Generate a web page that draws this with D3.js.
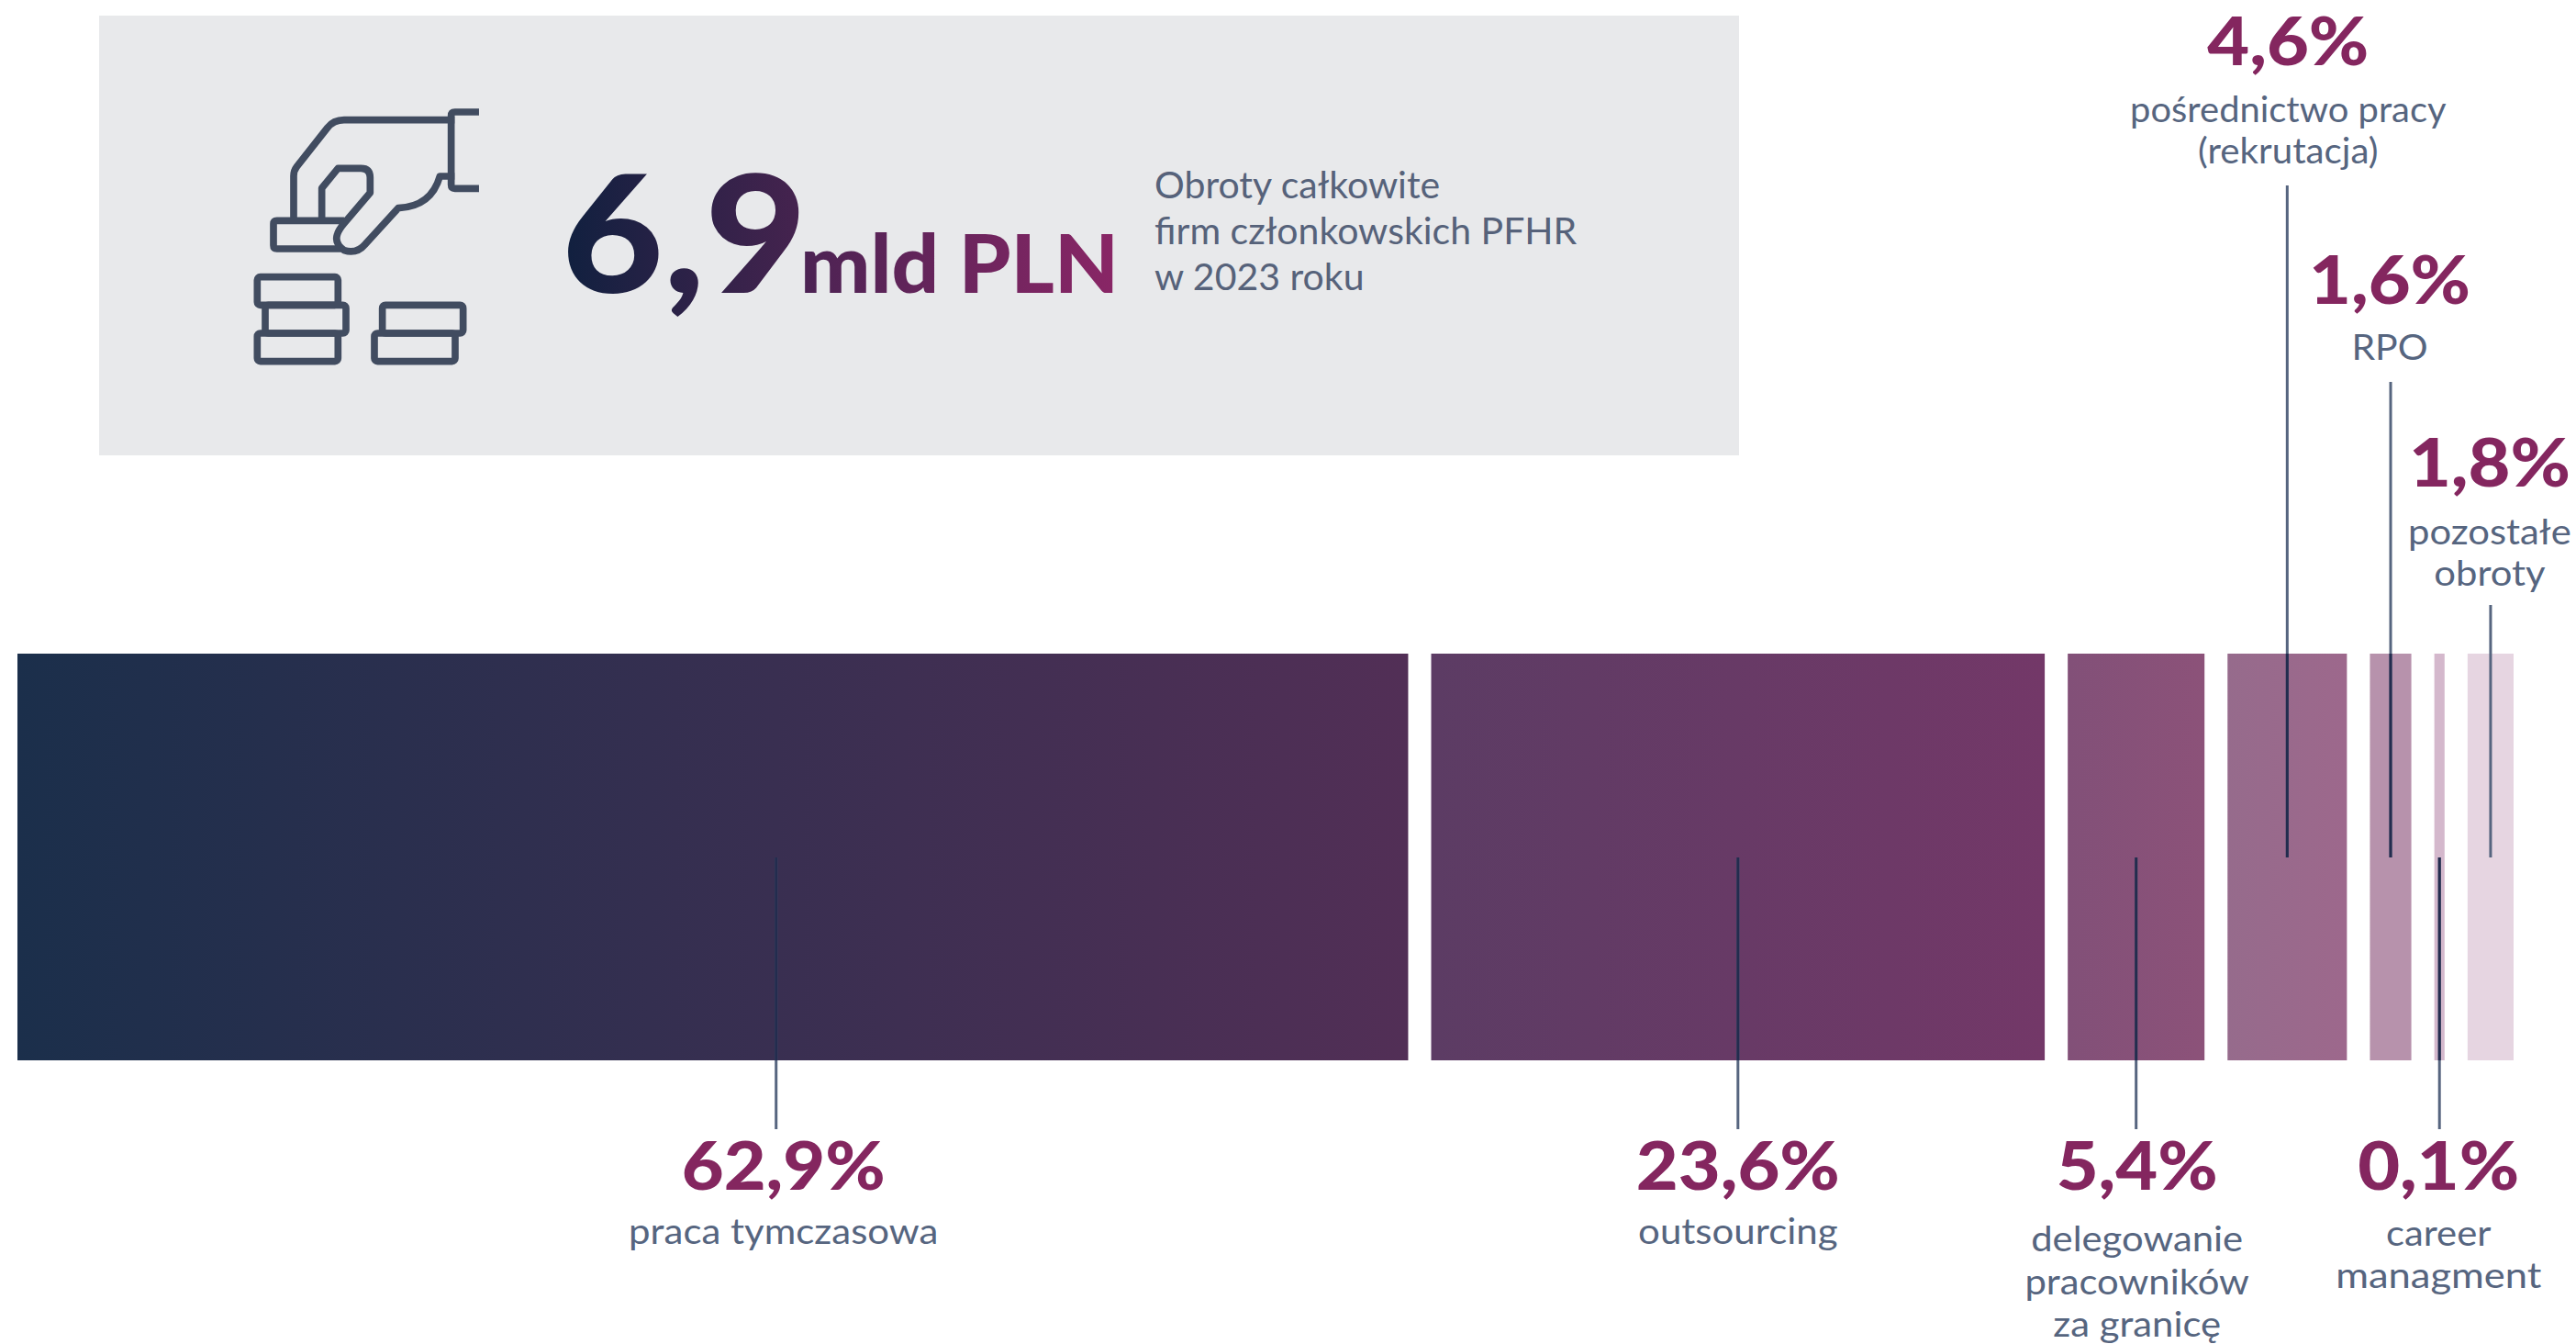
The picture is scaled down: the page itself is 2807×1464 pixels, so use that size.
<!DOCTYPE html>
<html><head><meta charset="utf-8">
<script src="https://cdn.jsdelivr.net/npm/d3@7"></script>
<style>html,body{margin:0;padding:0;background:#fff}svg{display:block}text{font-family:Lato,sans-serif}</style>
</head><body><svg id="c" width="2807" height="1464"></svg>
<script>
// DATA
const categories = ["praca tymczasowa","outsourcing","delegowanie pracowników za granicę","pośrednictwo pracy (rekrutacja)","RPO","career managment","pozostałe obroty"];
const percentLabels = ["62,9%","23,6%","5,4%","4,6%","1,6%","0,1%","1,8%"];
const shareValues = [62.9,23.6,5.4,4.6,1.6,0.1,1.8];
// lengths of the segments as drawn in the picture (first is compressed, smallest is widened)
const drawnLengths = [54.4,24.0,5.35,4.67,1.62,0.4,1.8];
const segmentGap = 0.9;
const headlineValue = "6,9";
const headlineUnit = "mld PLN";
const headlineNote = ["Obroty całkowite","firm członkowskich PFHR","w 2023 roku"];
const categoryLines = [["praca tymczasowa"],["outsourcing"],["delegowanie","pracowników","za granicę"],["pośrednictwo pracy","(rekrutacja)"],["RPO"],["career","managment"],["pozostałe","obroty"]];

// LAYOUT / STYLE
const gradients = [["#1b2f4b","#522f56"],["#5c3c64","#733868"],["#825078","#8c5279"],["#966b8c","#9d688c"],["#b792ac","#b792ac"],["#d4b8cc","#d4b8cc"],["#e6d5e1","#e6d5e1"]];
const leaderEnd = [1230,1230,1230,202,416,1230,659];
const leaderShift = [69,0,0,0,0,0,0];
const valueBase = [1296,1296,1296,71,331,1296,530];
const textBase = [1355,1355,1363,133,392,1357,593];
const textStep = [0,0,46.5,45,0,46,45];
const textShift = [8,0,1,1,-1,-1,-1];
const BAR_TOP=712, BAR_BOTTOM=1155, BAR_MID=934;
const WIDEN=1.1;
const lineWiden=[[1.105],[1.105],[1.1,1.1,1.1],[1.05,1.06],[1.08],[1.1,1.145],[1.1,1.1]];
const ink="#56657f", inkOnBar="#232c4e", purple="#84265f";

const starts = d3.cumsum([0,...drawnLengths.slice(0,-1)].map(v=>v+segmentGap)).map(v=>v-segmentGap);
const x = d3.scaleLinear().domain([0,d3.sum(drawnLengths)+segmentGap*(drawnLengths.length-1)]).range([19,2739]);
const svg = d3.select("#c");
const defs = svg.append("defs");

const segs = categories.map((c,i)=>({c,i,v:shareValues[i],x0:x(starts[i]),x1:x(starts[i]+drawnLengths[i])}));
segs.forEach(s=>{
  const g=defs.append("linearGradient").attr("id","g"+s.i).attr("gradientUnits","objectBoundingBox");
  g.append("stop").attr("offset",0).attr("stop-color",gradients[s.i][0]);
  g.append("stop").attr("offset",1).attr("stop-color",gradients[s.i][1]);
});
const makeGrad=(id,a,b)=>{const u=defs.append("linearGradient").attr("id",id).attr("gradientUnits","objectBoundingBox");
  u.append("stop").attr("offset",0).attr("stop-color",a);u.append("stop").attr("offset",1).attr("stop-color",b);return `url(#${id})`;};

// panel
svg.append("rect").attr("x",108).attr("y",17).attr("width",1787).attr("height",479).attr("fill","#e8e9eb");

// icon (drawn in a 960-unit box)
const icon=svg.append("g").attr("transform","translate(240,100) scale(0.3333)").attr("fill","none").attr("stroke","#414c60").attr("stroke-width",23).attr("stroke-linejoin","round");
["M846 66H767Q755 66 755 78V304Q755 316 767 316H846",
 "M766 92H405Q370 92 350 118L250 245Q240 258 240 275V432",
 "M766 276H718Q690 375 582 380L475 497Q445 532 405 518Q372 495 383 465Q388 450 405 430L490 330V280Q490 250 460 250H385L332 315V432",
 "M395 513H185Q174 513 174 502V432Q174 421 185 421H405"
].forEach(d=>icon.append("path").attr("d",d));
[[121,605],[147,697],[121,789],[530,697],[504,789]].forEach(([a,b])=>icon.append("rect").attr("x",a).attr("y",b).attr("width",264).attr("height",92).attr("rx",10));

// headline
svg.append("text").attr("transform","translate(612,319) scale(1.075,1)").attr("font-size",178).attr("font-weight",900).attr("fill",makeGrad("tv","#10203f","#47234f")).text(headlineValue);
svg.append("text").attr("transform","translate(1219,319) scale(1.03,1)").attr("text-anchor","end").attr("font-size",88).attr("font-weight",900).attr("fill",makeGrad("tu","#4b2353","#8a2666")).text(headlineUnit);
svg.append("g").selectAll("text").data(headlineNote).join("text").attr("x",1258).attr("y",(d,i)=>216+50*i).attr("font-size",41).attr("fill","#56627a").text(d=>d);

// bars
svg.append("g").selectAll("rect").data(segs).join("rect")
  .attr("x",d=>d.x0).attr("y",BAR_TOP).attr("width",d=>d.x1-d.x0).attr("height",BAR_BOTTOM-BAR_TOP).attr("fill",d=>`url(#g${d.i})`);

// leaders
const cx=d=>(d.x0+d.x1)/2+leaderShift[d.i];
svg.append("g").selectAll("line").data(segs).join("line")
  .attr("x1",cx).attr("x2",cx).attr("y1",BAR_MID).attr("y2",d=>leaderEnd[d.i])
  .attr("stroke",ink).attr("stroke-width",3);
svg.append("g").selectAll("line").data(segs.filter(d=>d.i!==6)).join("line")
  .attr("x1",cx).attr("x2",cx).attr("y1",BAR_MID).attr("y2",d=>leaderEnd[d.i]>BAR_MID?BAR_BOTTOM:BAR_TOP)
  .attr("stroke",inkOnBar).attr("stroke-width",3);

// labels
const lab=svg.append("g").attr("text-anchor","middle").selectAll("g").data(segs).join("g");
lab.append("text").attr("transform",d=>`translate(${cx(d)+textShift[d.i]},${valueBase[d.i]}) scale(${WIDEN},1)`).attr("font-size",72).attr("font-weight",900).attr("fill",purple).text(d=>percentLabels[d.i]);
lab.each(function(d){
  d3.select(this).selectAll("text.l").data(categoryLines[d.i]).join("text").attr("class","l")
    .attr("transform",(t,k)=>`translate(${cx(d)+textShift[d.i]},${textBase[d.i]+textStep[d.i]*k}) scale(${lineWiden[d.i][k]},1)`).attr("font-size",38).attr("fill",ink).text(t=>t);
});
</script></body></html>
